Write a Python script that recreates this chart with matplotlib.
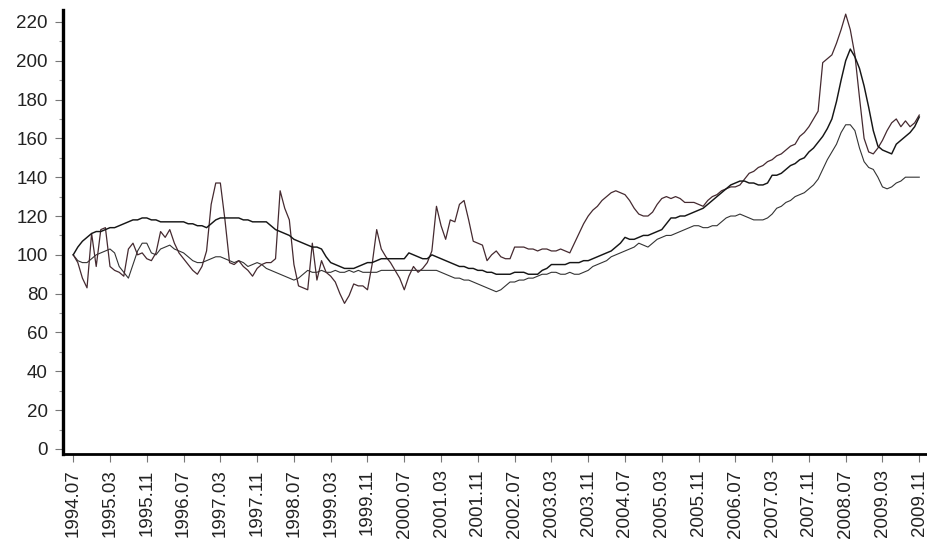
from matplotlib import pyplot as plt
import numpy as np

# monthly index values, 1994.07 .. 2009.11
seriesA_1994 = [100, 104, 107, 109, 111, 112]
seriesA_1995 = [112, 113, 114, 114, 115, 116, 117, 118, 118, 119, 119, 118]
seriesA_1996 = [118, 117, 117, 117, 117, 117, 117, 116, 116, 115, 115, 114]
seriesA_1997 = [116, 118, 119, 119, 119, 119, 119, 118, 118, 117, 117, 117]
seriesA_1998 = [117, 115, 113, 112, 111, 110, 108, 107, 106, 105, 104, 104]
seriesA_1999 = [103, 99, 96, 95, 94, 93, 93, 93, 94, 95, 96, 96]
seriesA_2000 = [97, 98, 98, 98, 98, 98, 98, 101, 100, 99, 98, 98]
seriesA_2001 = [100, 99, 98, 97, 96, 95, 94, 94, 93, 93, 92, 92]
seriesA_2002 = [91, 91, 90, 90, 90, 90, 91, 91, 91, 90, 90, 90]
seriesA_2003 = [92, 93, 95, 95, 95, 95, 96, 96, 96, 97, 97, 98]
seriesA_2004 = [99, 100, 101, 102, 104, 106, 109, 108, 108, 109, 110, 110]
seriesA_2005 = [111, 112, 113, 116, 119, 119, 120, 120, 121, 122, 123, 124]
seriesA_2006 = [126, 128, 130, 132, 134, 136, 137, 138, 138, 137, 137, 136]
seriesA_2007 = [136, 137, 141, 141, 142, 144, 146, 147, 149, 150, 153, 155]
seriesA_2008 = [158, 161, 165, 170, 179, 190, 200, 206, 202, 196, 187, 176]
seriesA_2009 = [164, 156, 154, 153, 152, 157, 159, 161, 163, 166, 171]

seriesB_1994 = [100, 96, 88, 83, 111, 94]
seriesB_1995 = [113, 114, 94, 92, 91, 89, 103, 106, 100, 101, 98, 97]
seriesB_1996 = [101, 112, 109, 113, 106, 101, 98, 95, 92, 90, 94, 102]
seriesB_1997 = [126, 137, 137, 118, 96, 95, 97, 94, 92, 89, 93, 95]
seriesB_1998 = [96, 96, 98, 133, 124, 118, 95, 84, 83, 82, 106, 87]
seriesB_1999 = [97, 91, 89, 86, 80, 75, 79, 85, 84, 84, 82, 95]
seriesB_2000 = [113, 103, 99, 96, 92, 88, 82, 89, 94, 91, 93, 96]
seriesB_2001 = [102, 125, 115, 108, 118, 117, 126, 128, 118, 107, 106, 105]
seriesB_2002 = [97, 100, 102, 99, 98, 98, 104, 104, 104, 103, 103, 102]
seriesB_2003 = [103, 103, 102, 102, 103, 102, 101, 106, 111, 116, 120, 123]
seriesB_2004 = [125, 128, 130, 132, 133, 132, 131, 128, 124, 121, 120, 120]
seriesB_2005 = [122, 126, 129, 130, 129, 130, 129, 127, 127, 127, 126, 125]
seriesB_2006 = [128, 130, 131, 133, 134, 135, 135, 136, 139, 142, 143, 145]
seriesB_2007 = [146, 148, 149, 151, 152, 154, 156, 157, 161, 163, 166, 170]
seriesB_2008 = [174, 199, 201, 203, 209, 216, 224, 216, 203, 181, 160, 153]
seriesB_2009 = [152, 155, 159, 164, 168, 170, 166, 169, 166, 168, 172]

seriesC_1994 = [100, 97, 96, 96, 98, 100]
seriesC_1995 = [101, 102, 103, 101, 94, 91, 88, 95, 102, 106, 106, 101]
seriesC_1996 = [100, 103, 104, 105, 103, 102, 101, 99, 97, 96, 96, 97]
seriesC_1997 = [98, 99, 99, 98, 97, 96, 97, 96, 94, 95, 96, 95]
seriesC_1998 = [93, 92, 91, 90, 89, 88, 87, 88, 90, 92, 91, 91]
seriesC_1999 = [92, 91, 91, 92, 91, 91, 92, 91, 92, 91, 91, 91]
seriesC_2000 = [91, 92, 92, 92, 92, 92, 92, 92, 92, 92, 92, 92]
seriesC_2001 = [92, 92, 91, 90, 89, 88, 88, 87, 87, 86, 85, 84]
seriesC_2002 = [83, 82, 81, 82, 84, 86, 86, 87, 87, 88, 88, 89]
seriesC_2003 = [90, 90, 91, 91, 90, 90, 91, 90, 90, 91, 92, 94]
seriesC_2004 = [95, 96, 97, 99, 100, 101, 102, 103, 104, 106, 105, 104]
seriesC_2005 = [106, 108, 109, 110, 110, 111, 112, 113, 114, 115, 115, 114]
seriesC_2006 = [114, 115, 115, 117, 119, 120, 120, 121, 120, 119, 118, 118]
seriesC_2007 = [118, 119, 121, 124, 125, 127, 128, 130, 131, 132, 134, 136]
seriesC_2008 = [139, 144, 149, 153, 157, 163, 167, 167, 164, 155, 148, 145]
seriesC_2009 = [144, 140, 135, 134, 135, 137, 138, 140, 140, 140, 140]

tickLabels = ['1994.07', '1995.03', '1995.11', '1996.07', '1997.03', '1997.11',
              '1998.07', '1999.03', '1999.11', '2000.07', '2001.03', '2001.11',
              '2002.07', '2003.03', '2003.11', '2004.07', '2005.03', '2005.11',
              '2006.07', '2007.03', '2007.11', '2008.07', '2009.03', '2009.11']


def joinYears(prefix):
    values = []
    for year in range(1994, 2010):
        values += globals()[f'{prefix}_{year}']
    return values


def chartSeries():
    seriesA = joinYears('seriesA')
    seriesB = joinYears('seriesB')
    seriesC = joinYears('seriesC')
    months = np.arange(len(seriesA))

    fig = plt.figure(figsize=(9.28, 5.47), dpi=100)
    ax = fig.add_axes([0.068, 0.170, 0.932, 0.812])

    ax.plot(months, seriesC, color='#333333', linewidth=0.8)
    ax.plot(months, seriesB, color='#452a30', linewidth=0.9)
    ax.plot(months, seriesA, color='#161616', linewidth=1.05)

    ax.set_xlim(-2.2, 185.9)
    ax.set_ylim(-2.6, 226.2)

    ax.set_yticks(range(0, 221, 20))
    ax.set_yticks(range(10, 221, 20), minor=True)
    ax.set_xticks(months[::8])
    ax.set_xticklabels(tickLabels, rotation=90)

    for side in ['top', 'right']:
        ax.spines[side].set_visible(False)
    ax.spines['left'].set_linewidth(2.4)
    ax.spines['bottom'].set_linewidth(2.0)

    ax.tick_params(axis='both', which='major', length=6, width=0.8, color='#777777',
                   labelsize=13.5, labelcolor='#222222', pad=5)
    ax.tick_params(axis='y', which='minor', length=3, width=0.8, color='#999999')
    for label in ax.get_xticklabels() + ax.get_yticklabels():
        label.set_family('Liberation Sans')

    fig.savefig('out.png', dpi=100)


if (__name__ == "__main__"):
    chartSeries()
